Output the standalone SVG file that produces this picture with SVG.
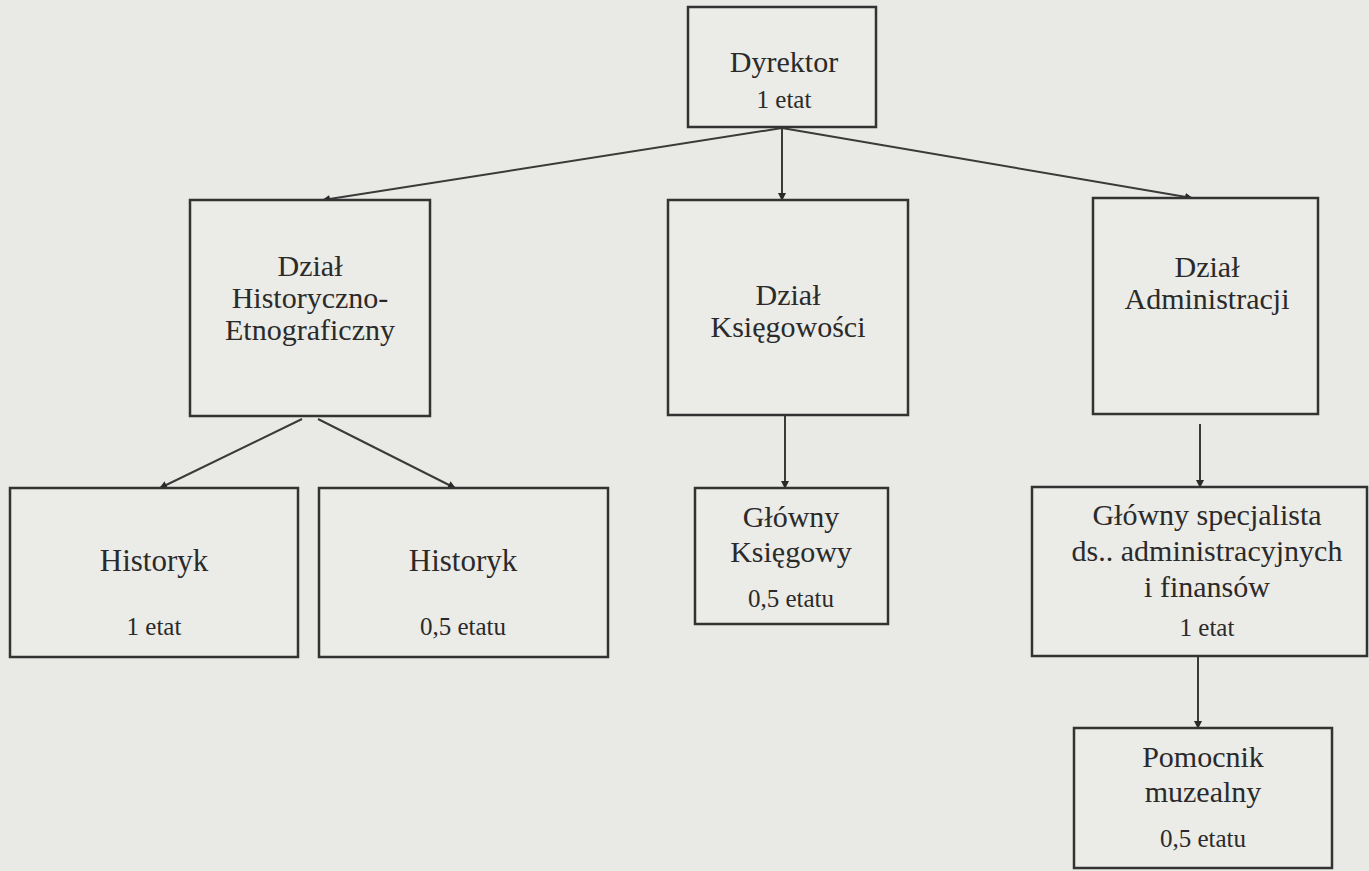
<svg xmlns="http://www.w3.org/2000/svg" width="1369" height="871" viewBox="0 0 1369 871">
<defs>
<style>
.box{fill:#ebebe7;stroke:#333;stroke-width:2.5}
text{font-family:'Liberation Serif','Times New Roman',serif;fill:#2a2a2a;text-anchor:middle}
.b{font-size:30px}
.s{font-size:25px}
.c{stroke:#3a3a3a;stroke-width:2;fill:none}
</style>
<marker id="ah" markerWidth="8" markerHeight="8" refX="7" refY="4" orient="auto" markerUnits="userSpaceOnUse">
<path d="M0,0 L8,4 L0,8 z" fill="#2a2a2a"/>
</marker>
</defs>
<rect width="1369" height="871" fill="#e9e9e5"/>
<g id="connectors">
<line class="c" x1="782" y1="128" x2="323" y2="200" marker-end="url(#ah)"/>
<line class="c" x1="782" y1="128" x2="782" y2="200" marker-end="url(#ah)"/>
<line class="c" x1="782" y1="128" x2="1192" y2="198" marker-end="url(#ah)"/>
<line class="c" x1="302" y1="419" x2="160" y2="488" marker-end="url(#ah)"/>
<line class="c" x1="318" y1="419" x2="455" y2="488" marker-end="url(#ah)"/>
<line class="c" x1="785" y1="415" x2="785" y2="488" marker-end="url(#ah)"/>
<line class="c" x1="1200" y1="424" x2="1200" y2="487" marker-end="url(#ah)"/>
<line class="c" x1="1198" y1="656" x2="1198" y2="728" marker-end="url(#ah)"/>
</g>
<g id="n-dyrektor">
<rect class="box" x="688" y="7" width="188" height="120"/>
<text class="b" x="784" y="72">Dyrektor</text>
<text class="s" x="784" y="108">1 etat</text>
</g>
<g id="n-hist-etno">
<rect class="box" x="190" y="200" width="240" height="216"/>
<text class="b" x="310" y="276">Dział</text>
<text class="b" x="310" y="308">Historyczno-</text>
<text class="b" x="310" y="340">Etnograficzny</text>
</g>
<g id="n-ksieg">
<rect class="box" x="668" y="200" width="240" height="215"/>
<text class="b" x="788" y="305">Dział</text>
<text class="b" x="788" y="337">Księgowości</text>
</g>
<g id="n-admin">
<rect class="box" x="1093" y="198" width="225" height="216"/>
<text class="b" x="1207" y="277">Dział</text>
<text class="b" x="1207" y="309">Administracji</text>
</g>
<g id="n-historyk1">
<rect class="box" x="10" y="488" width="288" height="169"/>
<text class="b" x="154" y="571" style="font-size:31px">Historyk</text>
<text class="s" x="154" y="635">1 etat</text>
</g>
<g id="n-historyk2">
<rect class="box" x="319" y="488" width="289" height="169"/>
<text class="b" x="463" y="571" style="font-size:31px">Historyk</text>
<text class="s" x="463" y="635">0,5 etatu</text>
</g>
<g id="n-glowny-ksiegowy">
<rect class="box" x="695" y="488" width="193" height="136"/>
<text class="b" x="791" y="527">Główny</text>
<text class="b" x="791" y="562">Księgowy</text>
<text class="s" x="791" y="607">0,5 etatu</text>
</g>
<g id="n-specjalista">
<rect class="box" x="1032" y="487" width="335" height="169"/>
<text class="b" x="1207" y="525">Główny specjalista</text>
<text class="b" x="1207" y="561">ds.. administracyjnych</text>
<text class="b" x="1207" y="597">i finansów</text>
<text class="s" x="1207" y="636">1 etat</text>
</g>
<g id="n-pomocnik">
<rect class="box" x="1074" y="728" width="258" height="140"/>
<text class="b" x="1203" y="767">Pomocnik</text>
<text class="b" x="1203" y="802">muzealny</text>
<text class="s" x="1203" y="847">0,5 etatu</text>
</g>
</svg>
